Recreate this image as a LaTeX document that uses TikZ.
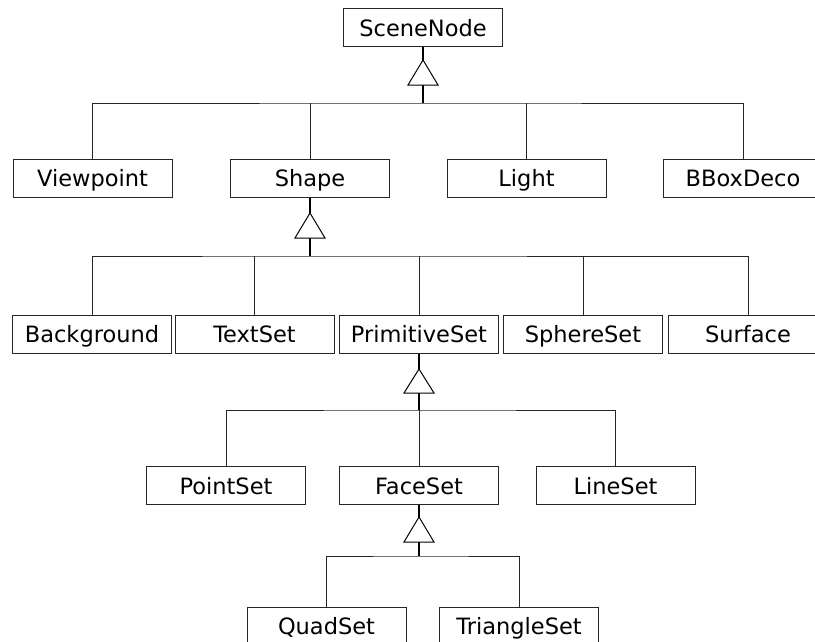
\documentclass[tikz,border=0pt]{standalone}
\usepackage{fontspec}
\setmainfont{DejaVu Sans}
\begin{document}
\begin{tikzpicture}[x=1pt,y=-1pt,
 box/.style={draw=black!85,line width=1pt,minimum width=159pt,minimum height=38pt,inner sep=0pt,text height=19pt,text depth=2pt,font=\fontsize{22.5}{25}\selectfont},
 wire/.style={draw=black!85,line width=1pt},
 stem/.style={draw=black,line width=2pt},
 tri/.style={draw=black,line width=1pt,fill=white,line join=miter}]
\useasboundingbox (0,0) rectangle (815,641);
\clip (0,0) rectangle (815,641);
% nodes
\node[box] (scene) at (423,27.5) {SceneNode};
\node[box] (view) at (92.5,178) {Viewpoint};
\node[box] (shape) at (310,178) {Shape};
\node[box] (light) at (526.5,178) {Light};
\node[box] (bbox) at (743,178) {BBoxDeco};
\node[box] (bg) at (92,334) {Background};
\node[box] (textset) at (254.5,334) {TextSet};
\node[box] (prim) at (419,334) {PrimitiveSet};
\node[box] (sphere) at (583,334) {SphereSet};
\node[box] (surf) at (748,334) {Surface};
\node[box] (point) at (226,485.5) {PointSet};
\node[box] (face) at (419,485.5) {FaceSet};
\node[box] (lineset) at (615.5,485.5) {LineSet};
\node[box] (quad) at (326.5,626) {QuadSet};
\node[box] (triset) at (519,626) {TriangleSet};
% SceneNode inheritance
\coordinate (sA) at (423,60); \coordinate (sB) at (423,85); \coordinate (sC) at (423,103);
\draw[stem] (scene.south) -- (sA);
\draw[stem] (sB) -- (sC);
\draw[tri] (sA) -- ++(-15,25) -- ++(30,0) -- cycle;
\draw[wire] (view.north) |- (sC) -| (bbox.north);
\draw[wire] (shape.north) -- (shape.north |- sC);
\draw[wire] (light.north) -- (light.north |- sC);
% Shape inheritance
\coordinate (hA) at (310,213); \coordinate (hB) at (310,238); \coordinate (hC) at (310,256);
\draw[stem] (shape.south) -- (hA);
\draw[stem] (hB) -- (hC);
\draw[tri] (hA) -- ++(-15,25) -- ++(30,0) -- cycle;
\draw[wire] (bg.north) |- (hC) -| (surf.north);
\draw[wire] (textset.north) -- (textset.north |- hC);
\draw[wire] (prim.north) -- (prim.north |- hC);
\draw[wire] (sphere.north) -- (sphere.north |- hC);
% PrimitiveSet inheritance
\coordinate (pA) at (419,369); \coordinate (pB) at (419,393); \coordinate (pC) at (419,410);
\draw[stem] (prim.south) -- (pA);
\draw[stem] (pB) -- (pC);
\draw[tri] (pA) -- ++(-15,24) -- ++(30,0) -- cycle;
\draw[wire] (point.north) |- (pC) -| (lineset.north);
\draw[wire] (face.north) -- (pC);
% FaceSet inheritance
\coordinate (fA) at (419,517); \coordinate (fB) at (419,542); \coordinate (fC) at (419,556);
\draw[stem] (face.south) -- (fA);
\draw[stem] (fB) -- (fC);
\draw[tri] (fA) -- ++(-15,25) -- ++(30,0) -- cycle;
\draw[wire] (quad.north) |- (fC) -| (triset.north);
\end{tikzpicture}
\end{document}
